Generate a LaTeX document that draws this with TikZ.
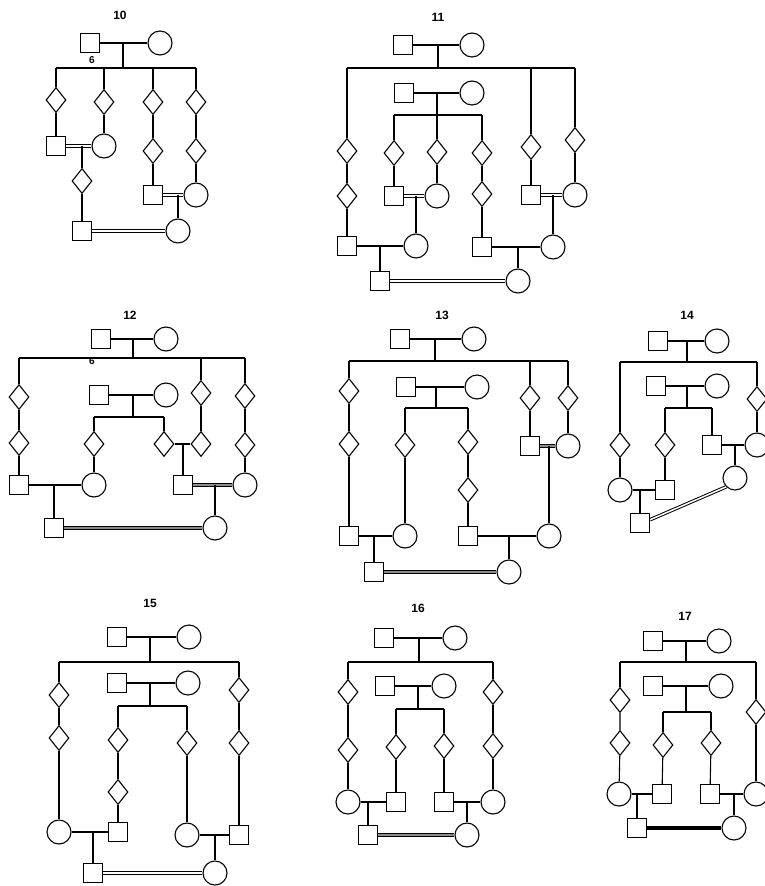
\documentclass[tikz,border=0pt]{standalone}
\usepackage{fontspec}
\setsansfont{Liberation Sans}
\usetikzlibrary{shapes.geometric}

\tikzset{
  male/.style={draw, rectangle, minimum size=19pt, inner sep=0pt},
  female/.style={draw, circle, minimum size=24pt, inner sep=0pt},
  anysex/.style={draw, diamond, minimum width=20pt, minimum height=25pt, inner sep=0pt},
  tag/.style={font=\sffamily\bfseries\fontsize{12}{12}\selectfont, inner sep=0pt},
  smalltag/.style={font=\sffamily\bfseries\fontsize{10}{10}\selectfont, inner sep=0pt},
  cousins/.style={double, line width=1pt, double distance=1.5pt},
  cousinsdark/.style={double=black!45, line width=1pt, double distance=1.3pt},
  cousinsbold/.style={line width=3.2pt}
}

\begin{document}
\begin{tikzpicture}[x=1pt, y=-1pt, line width=1.1pt]
  \useasboundingbox[fill=white] (0,0) rectangle (765,886);

  % pedigree 10
  \node[tag] (p10t) at (120,15) {10};
  \node[male] (p10m) at (90,43) {};
  \node[female] (p10f) at (160,43) {};
  \node[smalltag] (p10x) at (92,60) {6};
  \coordinate (p10s) at (123,68);
  \node[anysex] (p10a) at (56,100) {};
  \node[male] (p10b) at (56,146) {};
  \node[anysex] (p10c) at (104,102) {};
  \node[female] (p10d) at (104,146) {};
  \node[anysex] (p10e) at (82,181) {};
  \node[male] (p10g) at (82,231) {};
  \node[anysex] (p10h) at (153,102) {};
  \node[anysex] (p10i) at (153,151) {};
  \node[male] (p10j) at (153,195) {};
  \node[anysex] (p10k) at (196,102) {};
  \node[anysex] (p10l) at (196,151) {};
  \node[female] (p10n) at (196,195) {};
  \node[female] (p10o) at (178,231) {};
  \draw (p10m) -- (p10f);
  \draw (p10m -| p10s) -- (p10s);
  \draw (p10a |- p10s) -- (p10k |- p10s);
  \foreach \c in {p10a,p10c,p10h,p10k} \draw (\c |- p10s) -- (\c.north);
  \draw (p10a) -- (p10b);
  \draw (p10c) -- (p10d);
  \draw (p10h) -- (p10i) -- (p10j);
  \draw (p10k) -- (p10l) -- (p10n);
  \draw[cousins] (p10b.east) -- (p10d.west);
  \draw (p10b -| p10e) -- (p10e) -- (p10g);
  \draw[cousins] (p10j.east) -- (p10n.west);
  \draw (p10j -| p10o) -- (p10o);
  \draw[cousins] (p10g.east) -- (p10o.west);

  % pedigree 11
  \node[tag] (p11t) at (438,17) {11};
  \node[male] (p11m) at (403,45) {};
  \node[female] (p11f) at (472,45) {};
  \coordinate (p11s) at (438,68);
  \node[anysex] (p11a) at (347,151) {};
  \node[anysex] (p11b) at (347,196) {};
  \node[male] (p11c) at (347,246) {};
  \node[anysex] (p11d) at (531,147) {};
  \node[male] (p11e) at (531,195) {};
  \node[anysex] (p11g) at (575,140) {};
  \node[female] (p11h) at (575,195) {};
  \node[female] (p11i) at (553,247) {};
  \node[male] (p11j) at (404,93) {};
  \node[female] (p11k) at (472,93) {};
  \coordinate (p11r) at (437,115);
  \node[anysex] (p11l) at (394,153) {};
  \node[male] (p11n) at (394,196) {};
  \node[anysex] (p11o) at (437,152) {};
  \node[female] (p11p) at (437,196) {};
  \node[female] (p11q) at (416,246) {};
  \node[anysex] (p11u) at (482,153) {};
  \node[anysex] (p11v) at (482,194) {};
  \node[male] (p11w) at (482,247) {};
  \node[male] (p11y) at (380,281) {};
  \node[female] (p11z) at (518,281) {};
  \draw (p11m) -- (p11f);
  \draw (p11m -| p11s) -- (p11s);
  \draw (p11a |- p11s) -- (p11g |- p11s);
  \foreach \c in {p11a,p11d,p11g} \draw (\c |- p11s) -- (\c.north);
  \draw (p11a) -- (p11b) -- (p11c);
  \draw (p11d) -- (p11e);
  \draw (p11g) -- (p11h);
  \draw[cousins] (p11e.east) -- (p11h.west);
  \draw (p11e -| p11i) -- (p11i);
  \draw (p11j) -- (p11k);
  \draw (p11j -| p11r) -- (p11r);
  \draw (p11l |- p11r) -- (p11u |- p11r);
  \foreach \c in {p11l,p11o,p11u} \draw (\c |- p11r) -- (\c.north);
  \draw (p11l) -- (p11n);
  \draw (p11o) -- (p11p);
  \draw (p11u) -- (p11v) -- (p11w);
  \draw[cousins] (p11n.east) -- (p11p.west);
  \draw (p11n -| p11q) -- (p11q);
  \draw (p11c) -- (p11q);
  \draw (p11c -| p11y) -- (p11y);
  \draw (p11w) -- (p11i);
  \draw (p11w -| p11z) -- (p11z);
  \draw[cousins] (p11y.east) -- (p11z.west);

  % pedigree 12
  \node[tag] (p12t) at (130,315) {12};
  \node[male] (p12m) at (101,339) {};
  \node[female] (p12f) at (166,339) {};
  \coordinate (p12s) at (133,358);
  \node[smalltag] (p12x) at (92,361) {6};
  \node[anysex] (p12a) at (19,397) {};
  \node[anysex] (p12b) at (19,443) {};
  \node[male] (p12c) at (19,485) {};
  \node[anysex] (p12d) at (201,393) {};
  \node[anysex] (p12e) at (201,444) {};
  \node[anysex] (p12g) at (245,396) {};
  \node[anysex] (p12h) at (245,445) {};
  \node[female] (p12i) at (245,485) {};
  \node[male] (p12j) at (99,395) {};
  \node[female] (p12k) at (166,395) {};
  \coordinate (p12r) at (133,417);
  \node[anysex] (p12l) at (94,444) {};
  \node[female] (p12n) at (94,485) {};
  \node[anysex] (p12o) at (164,444) {};
  \node[male] (p12p) at (183,485) {};
  \node[male] (p12q) at (54,528) {};
  \node[female] (p12u) at (215,528) {};
  \draw (p12m) -- (p12f);
  \draw (p12m -| p12s) -- (p12s);
  \draw (p12a |- p12s) -- (p12g |- p12s);
  \foreach \c in {p12a,p12d,p12g} \draw (\c |- p12s) -- (\c.north);
  \draw (p12a) -- (p12b) -- (p12c);
  \draw (p12d) -- (p12e);
  \draw (p12g) -- (p12h) -- (p12i);
  \draw (p12j) -- (p12k);
  \draw (p12j -| p12r) -- (p12r);
  \draw (p12l |- p12r) -- (p12o |- p12r);
  \foreach \c in {p12l,p12o} \draw (\c |- p12r) -- (\c.north);
  \draw (p12l) -- (p12n);
  \draw (p12o) -- (p12e);
  \draw (p12o -| p12p) -- (p12p);
  \draw (p12c) -- (p12n);
  \draw (p12c -| p12q) -- (p12q);
  \draw[cousinsdark] (p12p.east) -- (p12i.west);
  \draw (p12p -| p12u) -- (p12u);
  \draw[cousinsdark] (p12q.east) -- (p12u.west);

  % pedigree 13
  \node[tag] (p13t) at (442,315) {13};
  \node[male] (p13m) at (400,339) {};
  \node[female] (p13f) at (474,339) {};
  \coordinate (p13s) at (435,361);
  \node[anysex] (p13a) at (349,391) {};
  \node[anysex] (p13b) at (349,444) {};
  \node[male] (p13c) at (349,536) {};
  \node[anysex] (p13d) at (530,398) {};
  \node[male] (p13e) at (530,446) {};
  \node[anysex] (p13g) at (568,398) {};
  \node[female] (p13h) at (568,446) {};
  \node[female] (p13i) at (549,536) {};
  \node[male] (p13j) at (406,387) {};
  \node[female] (p13k) at (477,387) {};
  \coordinate (p13r) at (436,408);
  \node[anysex] (p13l) at (405,445) {};
  \node[female] (p13n) at (405,536) {};
  \node[anysex] (p13o) at (468,442) {};
  \node[anysex] (p13p) at (468,490) {};
  \node[male] (p13q) at (468,536) {};
  \node[male] (p13u) at (374,572) {};
  \node[female] (p13v) at (509,572) {};
  \draw (p13m) -- (p13f);
  \draw (p13m -| p13s) -- (p13s);
  \draw (p13a |- p13s) -- (p13g |- p13s);
  \foreach \c in {p13a,p13d,p13g} \draw (\c |- p13s) -- (\c.north);
  \draw (p13a) -- (p13b) -- (p13c);
  \draw (p13d) -- (p13e);
  \draw (p13g) -- (p13h);
  \draw[cousinsdark] (p13e.east) -- (p13h.west);
  \draw (p13e -| p13i) -- (p13i);
  \draw (p13j) -- (p13k);
  \draw (p13j -| p13r) -- (p13r);
  \draw (p13l |- p13r) -- (p13o |- p13r);
  \foreach \c in {p13l,p13o} \draw (\c |- p13r) -- (\c.north);
  \draw (p13l) -- (p13n);
  \draw (p13o) -- (p13p) -- (p13q);
  \draw (p13c) -- (p13n);
  \draw (p13c -| p13u) -- (p13u);
  \draw (p13q) -- (p13i);
  \draw (p13q -| p13v) -- (p13v);
  \draw[cousinsdark] (p13u.east) -- (p13v.west);

  % pedigree 14
  \node[tag] (p14t) at (687,315) {14};
  \node[male] (p14m) at (658,341) {};
  \node[female] (p14f) at (717,341) {};
  \coordinate (p14s) at (687,362);
  \node[anysex] (p14a) at (620,445) {};
  \node[female] (p14b) at (620,490) {};
  \node[anysex] (p14c) at (757,399) {};
  \node[female] (p14d) at (757,445) {};
  \node[female] (p14e) at (735,478) {};
  \node[male] (p14j) at (656,386) {};
  \node[female] (p14k) at (717,386) {};
  \coordinate (p14r) at (687,408);
  \node[anysex] (p14l) at (665,445) {};
  \node[male] (p14n) at (665,490) {};
  \node[male] (p14o) at (712,445) {};
  \node[male] (p14q) at (640,523) {};
  \draw (p14m) -- (p14f);
  \draw (p14m -| p14s) -- (p14s);
  \draw (p14a |- p14s) -- (p14c |- p14s);
  \foreach \c in {p14a,p14c} \draw (\c |- p14s) -- (\c.north);
  \draw (p14a) -- (p14b);
  \draw (p14c) -- (p14d);
  \draw (p14j) -- (p14k);
  \draw (p14j -| p14r) -- (p14r);
  \draw (p14l |- p14r) -- (p14o |- p14r);
  \foreach \c in {p14l,p14o} \draw (\c |- p14r) -- (\c.north);
  \draw (p14l) -- (p14n);
  \draw (p14o) -- (p14d);
  \draw (p14o -| p14e) -- (p14e);
  \draw (p14b) -- (p14n);
  \draw (p14b -| p14q) -- (p14q);
  \draw[cousins] (p14q.18) -- (p14e.225);

  % pedigree 15
  \node[tag] (p15t) at (150,603) {15};
  \node[male] (p15m) at (117,637) {};
  \node[female] (p15f) at (189,637) {};
  \coordinate (p15s) at (150,662);
  \node[anysex] (p15a) at (59,695) {};
  \node[anysex] (p15b) at (59,738) {};
  \node[female] (p15c) at (59,832) {};
  \node[anysex] (p15d) at (239,690) {};
  \node[anysex] (p15e) at (239,743) {};
  \node[male] (p15g) at (239,835) {};
  \node[male] (p15j) at (117,683) {};
  \node[female] (p15k) at (188,683) {};
  \coordinate (p15r) at (150,706);
  \node[anysex] (p15l) at (118,740) {};
  \node[anysex] (p15n) at (118,792) {};
  \node[male] (p15o) at (118,832) {};
  \node[anysex] (p15p) at (187,743) {};
  \node[female] (p15q) at (187,835) {};
  \node[male] (p15u) at (93,873) {};
  \node[female] (p15v) at (215,873) {};
  \draw (p15m) -- (p15f);
  \draw (p15m -| p15s) -- (p15s);
  \draw (p15a |- p15s) -- (p15d |- p15s);
  \foreach \c in {p15a,p15d} \draw (\c |- p15s) -- (\c.north);
  \draw (p15a) -- (p15b) -- (p15c);
  \draw (p15d) -- (p15e) -- (p15g);
  \draw (p15j) -- (p15k);
  \draw (p15j -| p15r) -- (p15r);
  \draw (p15l |- p15r) -- (p15p |- p15r);
  \foreach \c in {p15l,p15p} \draw (\c |- p15r) -- (\c.north);
  \draw (p15l) -- (p15n) -- (p15o);
  \draw (p15p) -- (p15q);
  \draw (p15c) -- (p15o);
  \draw (p15c -| p15u) -- (p15u);
  \draw (p15q) -- (p15g);
  \draw (p15q -| p15v) -- (p15v);
  \draw[cousins] (p15u.east) -- (p15v.west);

  % pedigree 16
  \node[tag] (p16t) at (418,608) {16};
  \node[male] (p16m) at (384,638) {};
  \node[female] (p16f) at (455,638) {};
  \coordinate (p16s) at (419,662);
  \node[anysex] (p16a) at (348,692) {};
  \node[anysex] (p16b) at (348,750) {};
  \node[female] (p16c) at (348,802) {};
  \node[anysex] (p16d) at (493,692) {};
  \node[anysex] (p16e) at (493,746) {};
  \node[female] (p16g) at (493,802) {};
  \node[male] (p16j) at (385,686) {};
  \node[female] (p16k) at (444,686) {};
  \coordinate (p16r) at (418,709);
  \node[anysex] (p16l) at (396,747) {};
  \node[male] (p16n) at (396,802) {};
  \node[anysex] (p16o) at (444,746) {};
  \node[male] (p16p) at (444,802) {};
  \node[male] (p16q) at (368,835) {};
  \node[female] (p16u) at (467,835) {};
  \draw (p16m) -- (p16f);
  \draw (p16m -| p16s) -- (p16s);
  \draw (p16a |- p16s) -- (p16d |- p16s);
  \foreach \c in {p16a,p16d} \draw (\c |- p16s) -- (\c.north);
  \draw (p16a) -- (p16b) -- (p16c);
  \draw (p16d) -- (p16e) -- (p16g);
  \draw (p16j) -- (p16k);
  \draw (p16j -| p16r) -- (p16r);
  \draw (p16l |- p16r) -- (p16o |- p16r);
  \foreach \c in {p16l,p16o} \draw (\c |- p16r) -- (\c.north);
  \draw (p16l) -- (p16n);
  \draw (p16o) -- (p16p);
  \draw (p16c) -- (p16n);
  \draw (p16c -| p16q) -- (p16q);
  \draw (p16p) -- (p16g);
  \draw (p16p -| p16u) -- (p16u);
  \draw[cousinsdark] (p16q.east) -- (p16u.west);

  % pedigree 17
  \node[tag] (p17t) at (685,616) {17};
  \node[male] (p17m) at (653,641) {};
  \node[female] (p17f) at (719,641) {};
  \coordinate (p17s) at (686,662);
  \node[anysex] (p17a) at (620,700) {};
  \node[anysex] (p17b) at (620,743) {};
  \node[female] (p17c) at (619,794) {};
  \node[anysex] (p17d) at (756,712) {};
  \node[female] (p17e) at (756,794) {};
  \node[male] (p17j) at (653,686) {};
  \node[female] (p17k) at (721,686) {};
  \coordinate (p17r) at (686,712);
  \node[anysex] (p17l) at (663,745) {};
  \node[male] (p17n) at (662,794) {};
  \node[anysex] (p17o) at (711,743) {};
  \node[male] (p17p) at (710,794) {};
  \node[male] (p17q) at (637,828) {};
  \node[female] (p17u) at (734,828) {};
  \draw (p17m) -- (p17f);
  \draw (p17m -| p17s) -- (p17s);
  \draw (p17a |- p17s) -- (p17d |- p17s);
  \foreach \c in {p17a,p17d} \draw (\c |- p17s) -- (\c.north);
  \draw (p17a) -- (p17b) -- (p17c);
  \draw (p17d) -- (p17e);
  \draw (p17j) -- (p17k);
  \draw (p17j -| p17r) -- (p17r);
  \draw (p17l |- p17r) -- (p17o |- p17r);
  \foreach \c in {p17l,p17o} \draw (\c |- p17r) -- (\c.north);
  \draw (p17l) -- (p17n);
  \draw (p17o) -- (p17p);
  \draw (p17c) -- (p17n);
  \draw (p17c -| p17q) -- (p17q);
  \draw (p17p) -- (p17e);
  \draw (p17p -| p17u) -- (p17u);
  \draw[cousinsbold] (p17q) -- (p17u);
\end{tikzpicture}
\end{document}
